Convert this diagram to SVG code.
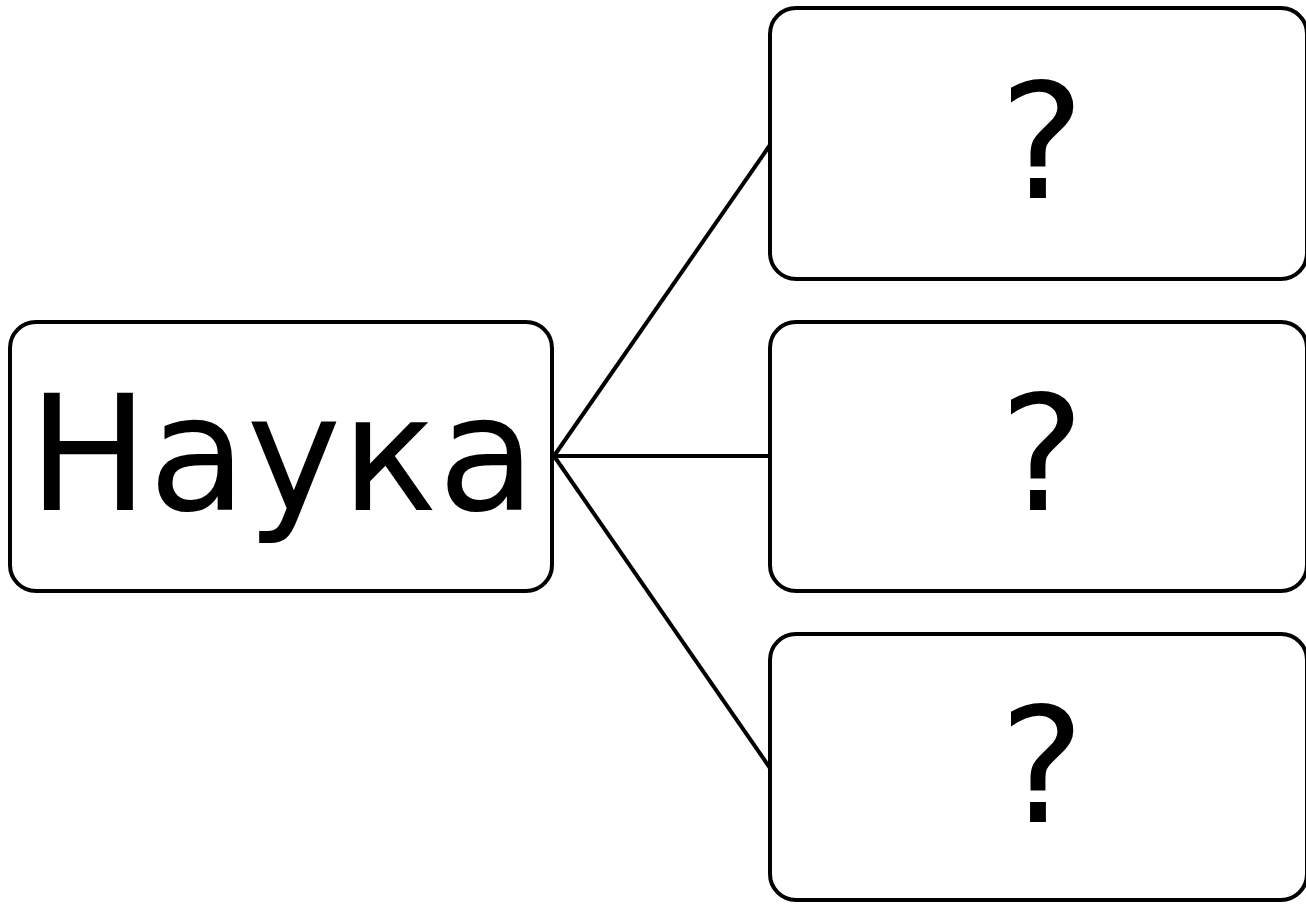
<svg xmlns="http://www.w3.org/2000/svg" width="1306" height="904" viewBox="0 0 1306 904">
<style>
.box{fill:#fff;stroke:#000;stroke-width:4}
.lbl{font-family:"DejaVu Sans",Verdana,sans-serif;font-size:160px;fill:#000;text-anchor:middle}
.edge{stroke:#000;stroke-width:4;fill:none}
</style>
<rect width="1306" height="904" fill="#fff"/>
<g id="connectors">
<line class="edge" x1="554" y1="456" x2="770" y2="145"/>
<line class="edge" x1="554" y1="456" x2="770" y2="456"/>
<line class="edge" x1="554" y1="456" x2="770" y2="768"/>
</g>
<g id="node-nauka">
<rect class="box" x="10" y="322" width="542" height="269" rx="26"/>
<text class="lbl" x="282" y="510">Наука</text>
</g>
<g id="node-q1">
<rect class="box" x="770" y="8" width="537" height="271" rx="26"/>
<text class="lbl" x="1042" y="198">?</text>
</g>
<g id="node-q2">
<rect class="box" x="770" y="322" width="537" height="269" rx="26"/>
<text class="lbl" x="1042" y="510">?</text>
</g>
<g id="node-q3">
<rect class="box" x="770" y="634" width="537" height="266" rx="26"/>
<text class="lbl" x="1042" y="822">?</text>
</g>
</svg>
